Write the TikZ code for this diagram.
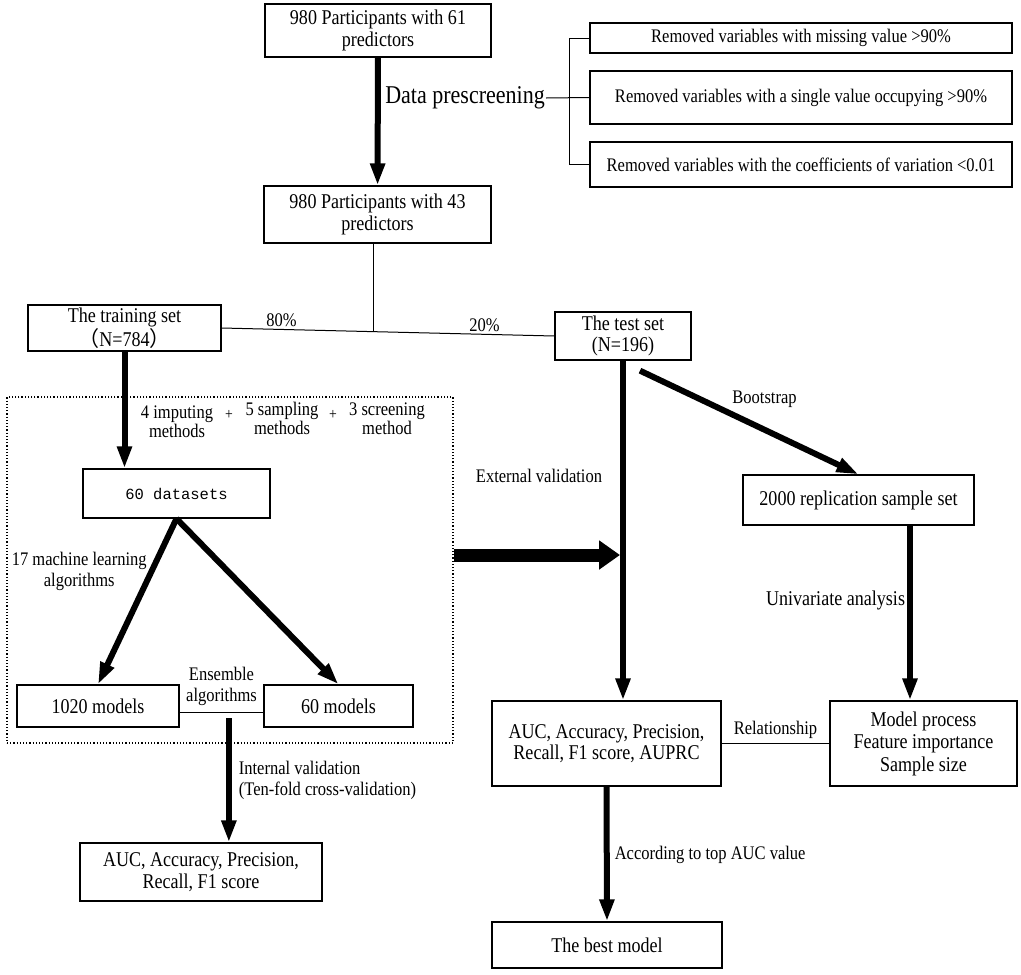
\documentclass[tikz,border=0pt]{standalone}
\usepackage{fontspec}
\setmainfont[FakeStretch=0.86]{Liberation Serif}
\newfontfamily\cjk{Noto Sans CJK SC}
\newfontfamily\dsfont{Liberation Mono}
\usetikzlibrary{arrows.meta,calc}

\tikzset{
  box/.style={rectangle, draw, line width=1.3pt, align=center, inner sep=2pt,
              font=\fontsize{21}{21.5}\selectfont},
  rulebox/.style={box, minimum width=422, font=\fontsize{19.2}{20}\selectfont},
  tag/.style={align=center, inner sep=2pt, font=\fontsize{19.2}{20.5}\selectfont},
  frame/.style={rectangle, draw, dotted, line width=1.2pt},
  thinline/.style={line width=1pt},
  arrow/.style={-{Triangle[length=22pt, width=14pt]}, line width=6pt},
  bigarrow/.style={-{Triangle[length=21pt, width=28pt]}, line width=13pt},
}

\begin{document}
\begin{tikzpicture}[x=1pt, y=-1pt]
  \useasboundingbox (0,0) rectangle (1021,975);

  % Prescreening (top)
  \node[box, minimum width=226, minimum height=53] (p61) at (378,30.5) {980 Participants with 61\\predictors};
  \node[box, minimum width=227, minimum height=57] (p43) at (377.5,214.5) {980 Participants with 43\\predictors};
  \node[rulebox, minimum height=30] (rm1) at (801,38) {Removed variables with missing value >90\%};
  \node[rulebox, minimum height=53] (rm2) at (801,97.5) {Removed variables with a single value occupying >90\%};
  \node[rulebox, minimum height=45] (rm3) at (801,164.5) {Removed variables with the coefficients of variation <0.01};
  \node[anchor=east, inner sep=1pt, font=\fontsize{25.6}{28}\selectfont] (pre) at (546,98) {Data prescreening};

  \draw[arrow] (p61) -- (p43);
  \draw[thinline] (pre.east) -- (rm2.west);
  \draw[thinline] (rm1.west) -- ++(-20,0) |- (rm3.west);

  % Split into training and test set
  \node[box, minimum width=193, minimum height=46] (train) at (124.5,328) {The training set\\{\cjk （}N=784{\cjk ）}};
  \node[box, minimum width=136, minimum height=48] (test) at (623,336) {The test set\\(N=196)};
  \draw[thinline] (train.east) -- node[tag, pos=0.18, above]{80\%}
        node[tag, pos=0.79, above]{20\%} coordinate[pos=0.455] (split) (test.west);
  \draw[thinline] (split |- p43.south) -- (split);

  % Model building (dotted frame)
  \node[frame, minimum width=446, minimum height=346] (ml) at (230,570) {};
  \node[box, minimum width=187, minimum height=49, font=\dsfont\fontsize{15.5}{19}\selectfont] (ds) at (176.5,493.5) {60 datasets};
  \node[tag, font=\fontsize{19.2}{19}\selectfont] (imp) at (177,421.5) {4 imputing\\methods};
  \node[tag, font=\fontsize{16}{17}\selectfont] (plusa) at (229,415) {+};
  \node[tag, font=\fontsize{19.2}{19}\selectfont] (samp) at (282,418.5) {5 sampling\\methods};
  \node[tag, font=\fontsize{16}{17}\selectfont] (plusb) at (333,415) {+};
  \node[tag, font=\fontsize{19.2}{19}\selectfont] (scr) at (387,418.5) {3 screening\\method};
  \node[box, minimum width=162, minimum height=42] (m1020) at (98,706) {1020 models};
  \node[box, minimum width=149, minimum height=42] (m60) at (338.5,706) {60 models};

  \draw[arrow] (train.south) -- (train.south |- ds.north);
  \draw[arrow] (ds.south) -- node[tag, pos=0.317, anchor=east]{17 machine learning\\algorithms} (m1020.north);
  \draw[arrow] (ds.south) -- (m60.north);
  \draw[thinline] ([yshift=-6]m1020.east) -- node[tag, above=4pt]{Ensemble\\algorithms}
        coordinate[pos=0.588] (ens) ([yshift=-6]m60.west);

  % Internal validation
  \node[box, minimum width=242, minimum height=58] (ival) at (201,872) {AUC, Accuracy, Precision,\\Recall, F1 score};
  \draw[arrow] ([yshift=-6]ens) -- node[tag, pos=0.5, right=5pt, align=left]{Internal validation\\(Ten-fold cross-validation)} (ens |- ival.north);

  % External validation and bootstrap
  \node[box, minimum width=229, minimum height=85] (eval) at (606.5,743.5) {AUC, Accuracy, Precision,\\Recall, F1 score, AUPRC};
  \node[box, minimum width=231, minimum height=50] (rep) at (858.5,500) {2000 replication sample set};
  \node[box, minimum width=187, minimum height=85, font=\fontsize{21}{22.5}\selectfont] (proc) at (923.5,743.5) {Model process\\Feature importance\\Sample size};
  \node[box, minimum width=230, minimum height=46] (best) at (607,945) {The best model};
  \coordinate (valin) at (620,555);

  \draw[arrow] (test.south) -- node[tag, pos=0.34, left=16pt]{External validation} (test.south |- eval.north);
  \draw[bigarrow] (ml.east |- valin) -- (valin);
  \draw[arrow] ($(test.south)+(17,10)$) -- node[tag, pos=0.4, anchor=south west]{Bootstrap} (rep.north);
  \draw[arrow] ([xshift=51.5]rep.south) -- node[tag, pos=0.43, left, font=\fontsize{21}{21}\selectfont]{Univariate analysis}
        ([xshift=51.5]rep.south |- proc.north);
  \draw[thinline] (eval.east) -- node[tag, above=2pt]{Relationship} (proc.west);
  \draw[arrow] (eval.south) -- node[tag, pos=0.51, right=3pt]{According to top AUC value} (best.north);
\end{tikzpicture}
\end{document}
